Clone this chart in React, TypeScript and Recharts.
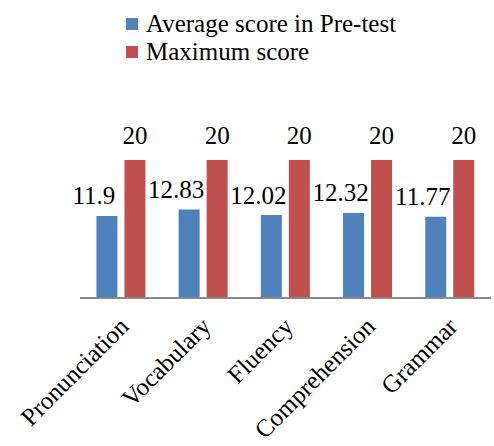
import React from 'react';
import { BarChart, Bar, XAxis, YAxis, Legend, LabelList } from 'recharts';

const categories = ['Pronunciation', 'Vocabulary', 'Fluency', 'Comprehension', 'Grammar'];
const averagePreTest = [11.9, 12.83, 12.02, 12.32, 11.77];
const maximumScore = [20, 20, 20, 20, 20];

const data = categories.map((name, i) => ({
    name,
    avg: averagePreTest[i],
    max: maximumScore[i],
}));

const FONT = '"Liberation Serif", "Times New Roman", serif';

const AxisTick = (props: any) => {
    const { x, y, payload } = props;
    const ax = x + 9;
    const ay = y + 22;
    return (
        <text
            x={ax}
            y={ay}
            transform={`rotate(-45, ${ax}, ${ay})`}
            textAnchor="end"
            fontFamily={FONT}
            fontSize={25}
            fill="#000"
        >
            {payload.value}
        </text>
    );
};

const avgLabel = (props: any) => {
    const { x, y, width, value } = props;
    return (
        <text
            x={x + width / 2 - 13}
            y={y - 20}
            textAnchor="middle"
            dominantBaseline="central"
            fontFamily={FONT}
            fontSize={25}
            fill="#000"
        >
            {value}
        </text>
    );
};

const maxLabel = (props: any) => {
    const { x, y, width, value } = props;
    return (
        <text
            x={x + width / 2}
            y={y - 25}
            textAnchor="middle"
            dominantBaseline="central"
            fontFamily={FONT}
            fontSize={25}
            fill="#000"
        >
            {value}
        </text>
    );
};

const LegendBox = ({ payload }: any) => (
    <div style={{ fontFamily: FONT, fontSize: 25, lineHeight: '28px', color: '#000' }}>
        {(payload || []).map((p: any) => (
            <div key={p.value} style={{ display: 'flex', alignItems: 'center' }}>
                <span
                    style={{
                        display: 'inline-block',
                        width: 12,
                        height: 12,
                        background: p.color,
                        marginRight: 8,
                    }}
                />
                {p.value}
            </div>
        ))}
    </div>
);

const App = () => {
    return (
        <div style={{ position: 'absolute', left: 0, top: 0 }}>
            <BarChart
                width={494}
                height={446}
                data={data}
                margin={{ top: 160, right: 3, bottom: 48, left: 80 }}
                barCategoryGap="20%"
                barGap={7}
            >
                <XAxis
                    dataKey="name"
                    height={100}
                    tick={<AxisTick />}
                    tickLine={false}
                    axisLine={{ stroke: '#898989', strokeWidth: 2 }}
                    interval={0}
                />
                <YAxis hide domain={[0, 20]} />
                <Legend
                    layout="vertical"
                    align="center"
                    verticalAlign="middle"
                    wrapperStyle={{ top: 10, left: 126, width: 'auto' }}
                    content={<LegendBox />}
                />
                <Bar dataKey="avg" name="Average score in Pre-test" fill="#4F81BD" isAnimationActive={false}>
                    <LabelList dataKey="avg" content={avgLabel} />
                </Bar>
                <Bar dataKey="max" name="Maximum score" fill="#C0504D" isAnimationActive={false}>
                    <LabelList dataKey="max" content={maxLabel} />
                </Bar>
            </BarChart>
        </div>
    );
};

export default App;
